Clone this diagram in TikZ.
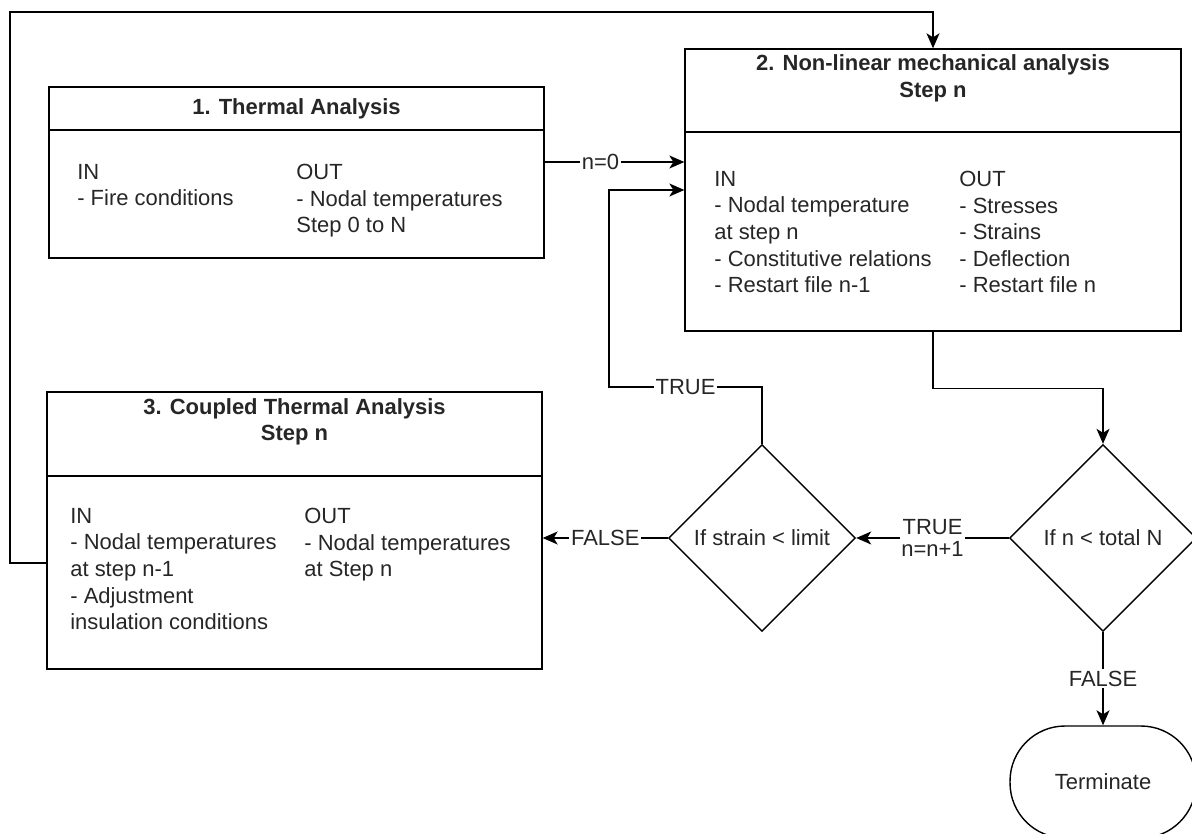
\documentclass[tikz,border=0pt]{standalone}
\usepackage{fontspec}
\setmainfont{Liberation Sans}
\usetikzlibrary{shapes.geometric,arrows.meta,positioning}

\begin{document}
\begin{tikzpicture}[x=0.02cm,y=-0.02cm,
  every node/.style={font=\fontsize{12.5}{15.1}\selectfont,text=black!85},
  stage/.style={draw,line width=0.8pt,minimum width=9.9cm,inner sep=0},
  head/.style={font=\fontsize{12.5}{15.1}\selectfont\bfseries,align=center,inner sep=0},
  body/.style={align=left,anchor=north west,inner sep=0},
  decision/.style={draw,diamond,aspect=1,line width=0.8pt,inner sep=0,
    minimum width=3.74cm,minimum height=3.74cm},
  lbl/.style={fill=white,inner sep=1pt,align=center,
    font=\fontsize{12.5}{13}\selectfont},
  arr/.style={line width=0.8pt,-{Stealth[length=0.3cm,width=0.26cm,inset=0.08cm]}},
  line/.style={line width=0.8pt}]
\clip (0,0) rectangle (1192,834);

% the three analysis stages
\node[stage,minimum height=3.42cm] (thermal) at (296.5,172.5) {};
\node[stage,minimum width=9.92cm,minimum height=5.64cm] (mech) at (933,190) {};
\node[stage,minimum height=5.54cm] (coupled) at (294.5,530.5) {};

\draw[line] (thermal.west |- 0,130) -- (thermal.east |- 0,130);
\draw[line] (mech.west |- 0,132) -- (mech.east |- 0,132);
\draw[line] (coupled.west |- 0,476) -- (coupled.east |- 0,476);

\node[head] (thermal-title) at (296.5,108.5) {1. Thermal Analysis};
\node[head] (mech-title) at (933,78.5) {2. Non-linear mechanical analysis\\Step n};
\node[head] (coupled-title) at (294.5,422) {3. Coupled Thermal Analysis\\Step n};

\node[body] (thermal-in) at (77,164) {IN\\- Fire conditions};
\node[body] (thermal-out) at (296,164) {OUT\\- Nodal temperatures\\Step 0 to N};

\node[body] (mech-in) at (714,171) {IN\\- Nodal temperature\\at step n\\- Constitutive relations\\- Restart file n-1};
\node[body] (mech-out) at (959,171) {OUT\\- Stresses\\- Strains\\- Deflection\\- Restart file n};

\node[body] (coupled-in) at (70,508) {IN\\- Nodal temperatures\\at step n-1\\- Adjustment\\insulation conditions};
\node[body] (coupled-out) at (304,508) {OUT\\- Nodal temperatures\\at Step n};

% checks and end
\node[decision] (strain) at (762,538) {If strain < limit};
\node[decision] (count) at (1103,538) {If n < total N};
\node[draw,line width=0.8pt,rounded corners=1.1cm,minimum width=3.72cm,
  minimum height=2.24cm] (stop) at (1103,782) {Terminate};

% connectors
\coordinate (back) at (609,387);
\draw[arr] ([yshift=0.21cm]thermal.east) -- node[lbl,pos=0.4]{n=0} ([yshift=0.21cm]thermal.east -| mech.west);
\draw[arr] (strain.north) |- node[lbl,pos=0.75]{TRUE} (back) |- (mech.west);
\draw[arr] (mech.south) -- ++(0,57) -| (count.north);
\draw[arr] (count.west) -- node[lbl]{TRUE\\n=n+1} (strain.east);
\draw[arr] (strain.west) -- node[lbl]{FALSE} (strain.west -| coupled.east);
\draw[arr] (count.south) -- node[lbl]{FALSE} (stop.north);
\draw[arr] ([yshift=-0.65cm]coupled.west) -| (10,12) -| (mech.north);
\end{tikzpicture}
\end{document}
